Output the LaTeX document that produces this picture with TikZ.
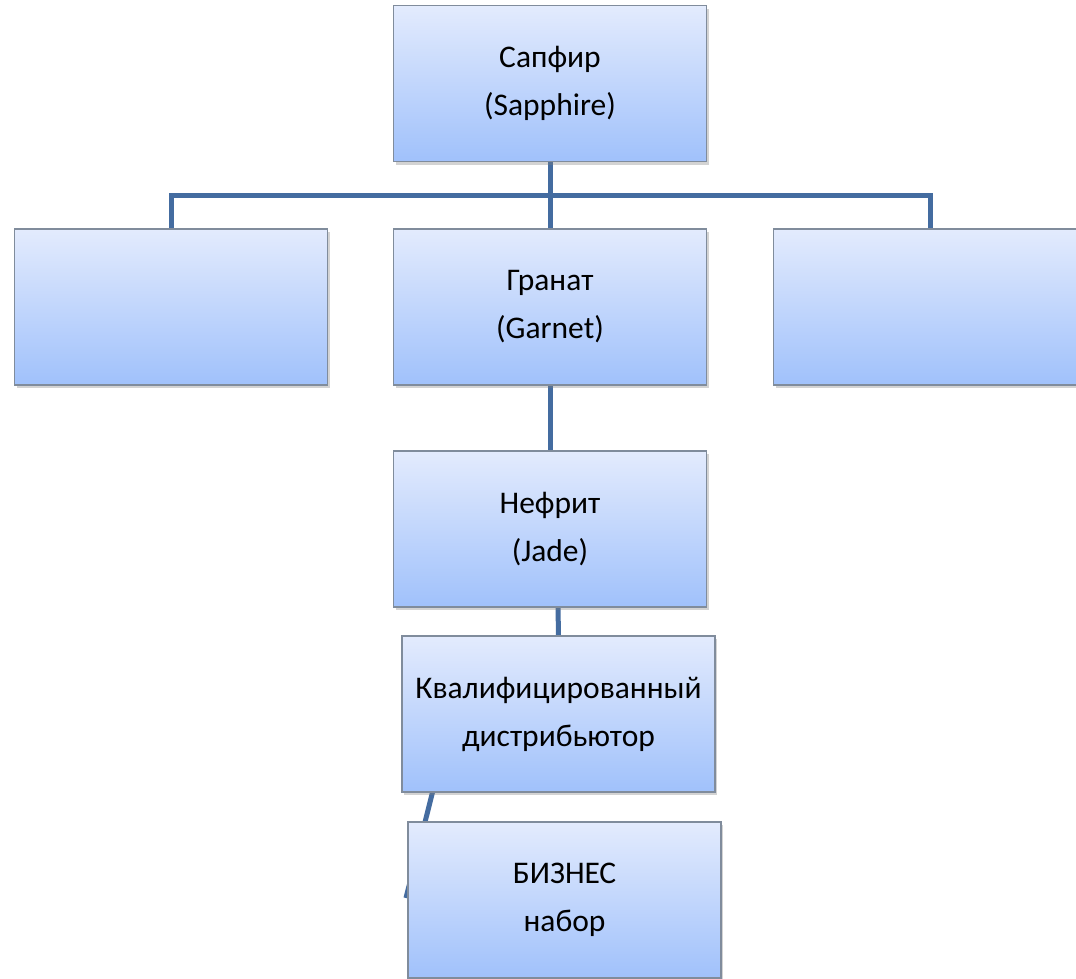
\documentclass[tikz,border=0pt]{standalone}
\usepackage{fontspec}
\setmainfont{Carlito}
\usetikzlibrary{calc,positioning,shadows}
\definecolor{boxtop}{RGB}{227,235,253}
\definecolor{boxbottom}{RGB}{160,193,251}
\definecolor{boxedge}{RGB}{128,140,156}
\definecolor{linkblue}{RGB}{68,108,160}
\pgfdeclarelayer{background}
\pgfsetlayers{background,main}
\tikzset{
  gem/.style={draw=boxedge,line width=1.2pt,top color=boxtop,bottom color=boxbottom,
    minimum width=313pt,minimum height=156pt,inner sep=0pt,align=center,
    font=\fontsize{31.5}{48}\selectfont,
    drop shadow={shadow xshift=2pt,shadow yshift=-3pt,opacity=0.35}},
  link/.style={linkblue,line width=5pt}
}
\begin{document}
\begin{tikzpicture}[x=1pt,y=-1pt]
	\useasboundingbox (0,0) rectangle (1076,978);
	\clip (0,0) rectangle (1076,978);
	\node[gem] (sapphire) at (550,83.5) {Сапфир\\(Sapphire)};
	\node[gem] (emptyleft) at (171,307) {};
	\node[gem] (garnet) at (550,307) {Гранат\\(Garnet)};
	\node[gem] (emptyright) at (930,307) {};
	\node[gem] (jade) at (550,529) {Нефрит\\(Jade)};
	\node[gem] (qualdist) at (558.5,714) {Квалифицированный\\дистрибьютор};
	\node[gem] (bizset) at (564.5,900) {БИЗНЕС\\набор};
	\coordinate (bus) at (550,195);
	\coordinate (bizend) at (406,898);
	\begin{pgfonlayer}{background}
	\draw[link] (sapphire.south) -- (bus);
	\draw[link] (emptyleft.north) |- (bus) -| (emptyright.north);
	\draw[link] (bus) -- (garnet.north);
	\draw[link] (garnet.south) -- (jade.north);
	\draw[link] ($ (jade.south) + (8,0) $) -- (qualdist.north);
	\draw[link] ($ (qualdist.south west) + (31,0) $) -- (bizend);
	\end{pgfonlayer}
\end{tikzpicture}
\end{document}
